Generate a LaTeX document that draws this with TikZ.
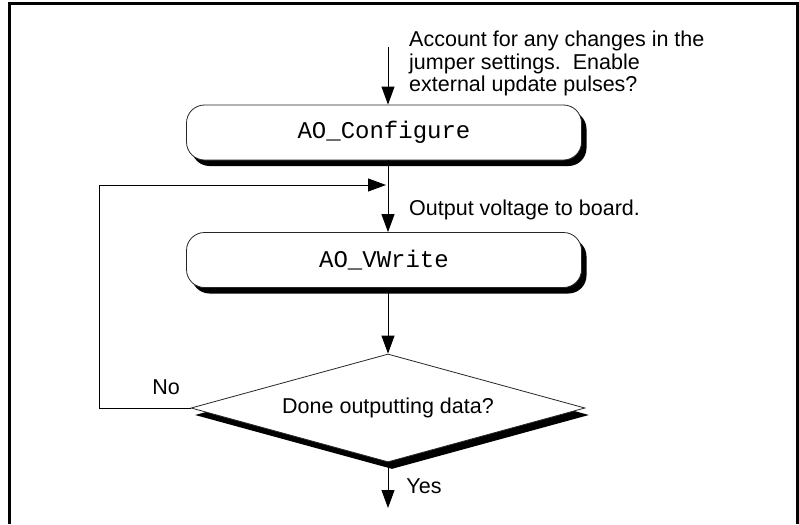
\documentclass[tikz,border=0pt]{standalone}
\usepackage{fontspec}
\setmainfont{Liberation Sans}
\setmonofont{Liberation Mono}
\usetikzlibrary{arrows.meta,shapes.geometric,shadows}
\begin{document}
\begin{tikzpicture}[x=1pt,y=-1pt,
  proc/.style={draw=black!85, line width=0.8pt, fill=white, rounded corners=18pt,
    minimum width=395pt, minimum height=55pt, inner sep=0pt,
    font=\fontsize{24}{28}\ttfamily,
    drop shadow={shadow xshift=5pt, shadow yshift=-6pt, fill=black, opacity=1}},
  dec/.style={diamond, aspect=3.58, draw=black!85, line width=0.8pt, fill=white,
    minimum width=394pt, minimum height=108pt, inner sep=0pt,
    font=\fontsize{21.5}{24}\selectfont,
    drop shadow={shadow xshift=4pt, shadow yshift=-7pt, fill=black, opacity=1}},
  lbl/.style={font=\fontsize{21.5}{22.5}\selectfont, inner sep=0pt},
  arr/.style={line width=0.9pt, -{Triangle[length=18pt,width=13pt]}},
  frameline/.style={line width=3pt}
]
\useasboundingbox (0,0) rectangle (799,524);
\draw[frameline] (9,524) -- (9,4) -- (797,4) -- (797,524);

\node[proc] (cfg) at (384,132.5) {AO\_Configure};
\node[proc] (vw) at (384,260) {AO\_VWrite};
\node[dec] (done) at (388,408) {Done outputting data?};

\coordinate (start) at (388,47);
\coordinate (stop) at (388,508);
\coordinate (lc) at (99,185);
\coordinate (merge) at (386,185);

\draw[arr] (start) -- (start |- cfg.north);
\draw[arr] (start |- cfg.south) -- (start |- vw.north);
\draw[arr] (start |- vw.south) -- (done.north);
\draw[arr] (done.south) -- (stop);
\draw[arr] (done.west) -| (lc) -- (merge);

\node[lbl, anchor=north west, align=left] (note1) at (409,31)
  {Account for any changes in the\\jumper settings.\ \ Enable\\external update pulses?};
\node[lbl, anchor=west] (note2) at (409,210) {Output voltage to board.};
\node[lbl] (no) at (166,387) {No};
\node[lbl] (yes) at (424,486) {Yes};
\end{tikzpicture}
\end{document}
